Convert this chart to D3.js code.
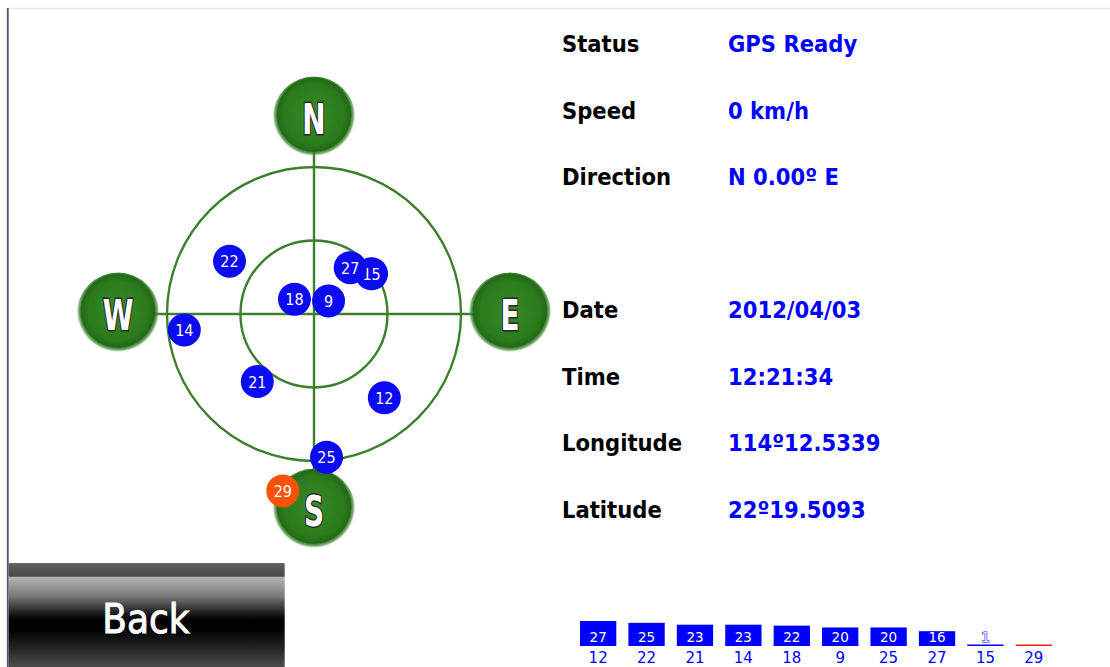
<!DOCTYPE html>
<html>
<head>
<meta charset="utf-8">
<script src="https://cdn.jsdelivr.net/npm/d3@7"></script>
<style>
  html, body { margin: 0; padding: 0; background: #fff; }
  svg { display: block; }
</style>
</head>
<body>
<svg id="chart" width="1110" height="667"></svg>
<script>
// info panel
const infoLabels = ['Status', 'Speed', 'Direction', '', 'Date', 'Time', 'Longitude', 'Latitude'];
const infoValues = ['GPS Ready', '0 km/h', 'N 0.00º E', '', '2012/04/03', '12:21:34', '114º12.5339', '22º19.5093'];

// satellites in view
const prns = [12, 22, 21, 14, 18, 9, 25, 27, 15, 29];
const snr = [27, 25, 23, 23, 22, 20, 20, 16, 1, 0];
const azimuth = [140, 302, 220, 263, 307, 48, 175, 38, 55, 190];
const elevation = [23, 29, 36, 10, 75, 78, 2, 54, 47, -20];
const inUse = [true, true, true, true, true, true, true, true, true, false];

const compassPoints = ['N', 'E', 'S', 'W'];
const compassAngles = [0, 90, 180, 270];

const sats = prns.map((p, i) => ({ prn: p, snr: snr[i], az: azimuth[i], el: elevation[i], used: inUse[i] }));

const svg = d3.select('#chart');
const defs = svg.append('defs');

const badgeGrad = defs.append('radialGradient').attr('id', 'badge')
  .attr('cx', '50%').attr('cy', '46%').attr('r', '50%');
badgeGrad.append('stop').attr('offset', '0%').attr('stop-color', '#378c27');
badgeGrad.append('stop').attr('offset', '72%').attr('stop-color', '#2b7a1c');
badgeGrad.append('stop').attr('offset', '88%').attr('stop-color', '#226a16');
badgeGrad.append('stop').attr('offset', '95%').attr('stop-color', '#3f8a33').attr('stop-opacity', 0.65);
badgeGrad.append('stop').attr('offset', '100%').attr('stop-color', '#8fbf86').attr('stop-opacity', 0);

const btnGrad = defs.append('linearGradient').attr('id', 'btn')
  .attr('x1', 0).attr('y1', 0).attr('x2', 0).attr('y2', 1);
[[0, '#6c6c6c'], [0.02, '#5c5c5c'], [0.12, '#4a4a4a'], [0.13, '#b4b4b4'], [0.3, '#7a7a7a'],
 [0.46, '#1a1a1a'], [0.52, '#000'], [0.62, '#050505'], [0.8, '#2a2a2a'], [1, '#5a5a5a']]
  .forEach(([o, c]) => btnGrad.append('stop').attr('offset', o).attr('stop-color', c));

// frame
svg.append('line').attr('x1', 8).attr('x2', 1110).attr('y1', 8.5).attr('y2', 8.5)
  .attr('stroke', '#e8e8e8').attr('stroke-width', 1.5);
svg.append('line').attr('x1', 7.8).attr('x2', 7.8).attr('y1', 8).attr('y2', 667)
  .attr('stroke', '#5a5068').attr('stroke-width', 1.8);

// sky plot
const cx = 314, cy = 314, R = 147;
const rScale = d3.scaleLinear().domain([90, 0]).range([0, R]);
const toXY = (az, r) => {
  const a = az * Math.PI / 180;
  return [cx + r * Math.sin(a), cy - r * Math.cos(a)];
};

const sky = svg.append('g');
const green = '#3d7f2d';
sky.selectAll('circle.ring').data([0, 45]).join('circle')
  .attr('class', 'ring')
  .attr('cx', cx).attr('cy', cy).attr('r', d => rScale(d))
  .attr('fill', 'none').attr('stroke', green).attr('stroke-width', 2.4);
sky.selectAll('line.axis').data(compassAngles).join('line')
  .attr('class', 'axis')
  .attr('x1', cx).attr('y1', cy)
  .attr('x2', d => toXY(d, rScale(-14))[0])
  .attr('y2', d => toXY(d, rScale(-14))[1])
  .attr('stroke', green).attr('stroke-width', 2.4);

const badgeR = rScale(-30);
const badges = sky.selectAll('g.badge').data(compassPoints).join('g')
  .attr('class', 'badge')
  .attr('transform', (d, i) => {
    const [x, y] = toXY(compassAngles[i], badgeR);
    return `translate(${x},${y})`;
  });
badges.append('circle').attr('r', 41.5).attr('fill', 'url(#badge)');
badges.append('text')
  .text(d => d)
  .attr('transform', 'scale(0.72,1)')
  .attr('text-anchor', 'middle')
  .attr('y', 15.5)
  .attr('font-family', '"DejaVu Sans Condensed", "DejaVu Sans", sans-serif')
  .attr('font-weight', 'bold')
  .attr('font-size', 43)
  .attr('fill', '#fff')
  .attr('stroke', '#2a2a2a').attr('stroke-width', 2.8)
  .attr('paint-order', 'stroke');

// higher satellites are drawn on top
const satG = sky.selectAll('g.sat')
  .data(sats.slice().sort((a, b) => d3.ascending(a.el, b.el)))
  .join('g')
  .attr('class', 'sat')
  .attr('transform', d => {
    const [x, y] = toXY(d.az, rScale(d.el));
    return `translate(${x},${y})`;
  });
satG.append('circle').attr('r', 16.5)
  .attr('fill', d => d.used ? '#0a0af5' : '#ff5209');
satG.append('text')
  .text(d => d.prn)
  .attr('text-anchor', 'middle').attr('y', 6)
  .attr('font-family', '"DejaVu Sans Condensed", "DejaVu Sans", sans-serif')
  .attr('font-size', 16).attr('fill', '#fff');

// info text
const rowY = d3.scaleLinear().domain([0, 7]).range([52, 517.5]);
const info = svg.append('g')
  .attr('font-family', '"DejaVu Sans Condensed", "DejaVu Sans", sans-serif')
  .attr('font-weight', 'bold').attr('font-size', 23.5);
info.selectAll('text.lbl').data(infoLabels).join('text')
  .attr('class', 'lbl')
  .attr('x', 562).attr('y', (d, i) => rowY(i))
  .attr('fill', '#000').text(d => d);
info.selectAll('text.val').data(infoValues).join('text')
  .attr('class', 'val')
  .attr('x', 728).attr('y', (d, i) => rowY(i))
  .attr('fill', '#0000ff').text(d => d);

// Back button
const btn = svg.append('g');
btn.append('rect').attr('x', 8.7).attr('y', 563).attr('width', 276).attr('height', 110)
  .attr('fill', 'url(#btn)');
btn.append('text').text('Back')
  .attr('x', 146).attr('y', 633).attr('text-anchor', 'middle')
  .attr('font-family', '"DejaVu Sans Condensed", "DejaVu Sans", sans-serif')
  .attr('font-size', 40).attr('fill', '#fff')
  .attr('stroke', '#fff').attr('stroke-width', 0.9);

// signal strength bars
const xBar = d3.scaleBand().domain(prns).range([580, 1052]).paddingInner(0.25).paddingOuter(0);
const yBar = d3.scaleLinear().domain([0, 27]).range([646, 621]);
const bars = svg.append('g');
bars.selectAll('rect').data(sats).join('rect')
  .attr('x', d => xBar(d.prn))
  .attr('width', xBar.bandwidth())
  .attr('y', d => Math.min(yBar(d.snr), 644.5))
  .attr('height', d => Math.max(646 - yBar(d.snr), 1.5))
  .attr('fill', d => d.snr > 0 ? '#0000ff' : '#ff2020');
bars.selectAll('text.snr').data(sats.filter(d => d.snr > 0)).join('text')
  .attr('class', 'snr')
  .attr('x', d => xBar(d.prn) + xBar.bandwidth() / 2).attr('y', 642)
  .attr('text-anchor', 'middle')
  .attr('font-family', '"DejaVu Sans", sans-serif').attr('font-size', 13.5)
  .attr('fill', '#fff').attr('stroke', '#0000ff').attr('stroke-width', 1.2)
  .attr('paint-order', 'stroke')
  .text(d => d.snr);
bars.selectAll('text.prn').data(sats).join('text')
  .attr('class', 'prn')
  .attr('x', d => xBar(d.prn) + xBar.bandwidth() / 2).attr('y', 663)
  .attr('text-anchor', 'middle')
  .attr('font-family', '"DejaVu Sans", sans-serif').attr('font-size', 15)
  .attr('fill', '#0000ff')
  .text(d => d.prn);
</script>
</body>
</html>
